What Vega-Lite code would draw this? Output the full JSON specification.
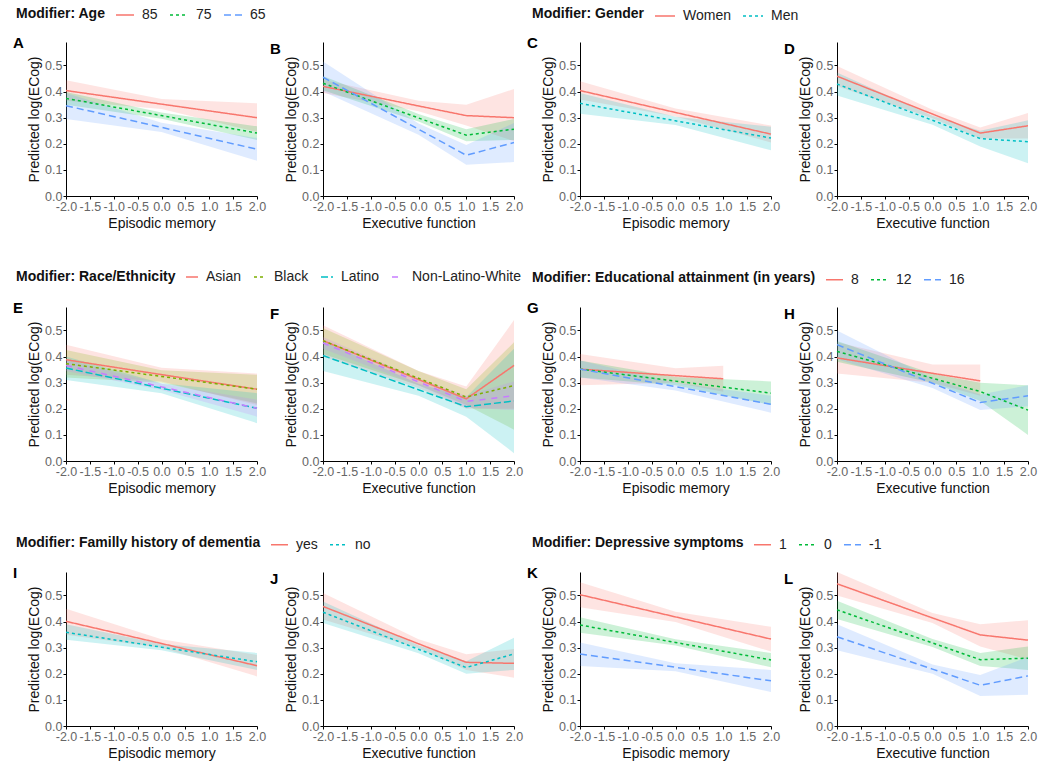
{
"$schema": "https://vega.github.io/schema/vega-lite/v6.json",
"background": "white",
"padding": {"left": 13, "top": 5, "right": 8, "bottom": 5},
"bounds": "flush",
"columns": 4,
"spacing": {"row": 111, "column": 66},
"data": {"values": [
{"p":"A","g":"85","x":-2,"y":0.404,"lo":0.365,"hi":0.443},{"p":"A","g":"85","x":0,"y":0.352,"lo":0.333,"hi":0.372},{"p":"A","g":"85","x":2,"y":0.300,"lo":0.245,"hi":0.355},
{"p":"A","g":"75","x":-2,"y":0.374,"lo":0.350,"hi":0.398},{"p":"A","g":"75","x":0,"y":0.308,"lo":0.296,"hi":0.320},{"p":"A","g":"75","x":2,"y":0.241,"lo":0.215,"hi":0.267},
{"p":"A","g":"65","x":-2,"y":0.346,"lo":0.295,"hi":0.395},{"p":"A","g":"65","x":0,"y":0.263,"lo":0.245,"hi":0.281},{"p":"A","g":"65","x":2,"y":0.179,"lo":0.135,"hi":0.222},
{"p":"B","g":"85","x":-2,"y":0.420,"lo":0.395,"hi":0.445},{"p":"B","g":"85","x":0,"y":0.345,"lo":0.325,"hi":0.365},{"p":"B","g":"85","x":1,"y":0.308,"lo":0.270,"hi":0.350},{"p":"B","g":"85","x":2,"y":0.300,"lo":0.210,"hi":0.410},
{"p":"B","g":"75","x":-2,"y":0.432,"lo":0.405,"hi":0.460},{"p":"B","g":"75","x":0,"y":0.299,"lo":0.285,"hi":0.314},{"p":"B","g":"75","x":1,"y":0.233,"lo":0.210,"hi":0.256},{"p":"B","g":"75","x":2,"y":0.256,"lo":0.215,"hi":0.295},
{"p":"B","g":"65","x":-2,"y":0.455,"lo":0.400,"hi":0.515},{"p":"B","g":"65","x":0,"y":0.256,"lo":0.235,"hi":0.278},{"p":"B","g":"65","x":1,"y":0.156,"lo":0.120,"hi":0.195},{"p":"B","g":"65","x":2,"y":0.205,"lo":0.130,"hi":0.280},
{"p":"C","g":"Women","x":-2,"y":0.404,"lo":0.370,"hi":0.440},{"p":"C","g":"Women","x":0,"y":0.320,"lo":0.305,"hi":0.335},{"p":"C","g":"Women","x":2,"y":0.237,"lo":0.205,"hi":0.270},
{"p":"C","g":"Men","x":-2,"y":0.355,"lo":0.315,"hi":0.395},{"p":"C","g":"Men","x":0,"y":0.288,"lo":0.272,"hi":0.304},{"p":"C","g":"Men","x":2,"y":0.222,"lo":0.175,"hi":0.265},
{"p":"D","g":"Women","x":-2,"y":0.459,"lo":0.420,"hi":0.498},{"p":"D","g":"Women","x":0,"y":0.314,"lo":0.298,"hi":0.330},{"p":"D","g":"Women","x":1,"y":0.241,"lo":0.220,"hi":0.262},{"p":"D","g":"Women","x":2,"y":0.269,"lo":0.220,"hi":0.318},
{"p":"D","g":"Men","x":-2,"y":0.429,"lo":0.385,"hi":0.473},{"p":"D","g":"Men","x":0,"y":0.290,"lo":0.273,"hi":0.307},{"p":"D","g":"Men","x":1,"y":0.220,"lo":0.190,"hi":0.250},{"p":"D","g":"Men","x":2,"y":0.208,"lo":0.125,"hi":0.290},
{"p":"E","g":"Asian","x":-2,"y":0.388,"lo":0.330,"hi":0.445},{"p":"E","g":"Asian","x":0,"y":0.331,"lo":0.305,"hi":0.357},{"p":"E","g":"Asian","x":2,"y":0.275,"lo":0.215,"hi":0.335},
{"p":"E","g":"Black","x":-2,"y":0.373,"lo":0.320,"hi":0.425},{"p":"E","g":"Black","x":0,"y":0.324,"lo":0.300,"hi":0.348},{"p":"E","g":"Black","x":2,"y":0.275,"lo":0.220,"hi":0.330},
{"p":"E","g":"Latino","x":-2,"y":0.356,"lo":0.310,"hi":0.400},{"p":"E","g":"Latino","x":0,"y":0.279,"lo":0.260,"hi":0.298},{"p":"E","g":"Latino","x":2,"y":0.202,"lo":0.145,"hi":0.260},
{"p":"E","g":"Non-Latino-White","x":-2,"y":0.366,"lo":0.345,"hi":0.387},{"p":"E","g":"Non-Latino-White","x":0,"y":0.284,"lo":0.272,"hi":0.296},{"p":"E","g":"Non-Latino-White","x":2,"y":0.202,"lo":0.170,"hi":0.235},
{"p":"F","g":"Asian","x":-2,"y":0.461,"lo":0.400,"hi":0.520},{"p":"F","g":"Asian","x":0,"y":0.312,"lo":0.280,"hi":0.345},{"p":"F","g":"Asian","x":1,"y":0.238,"lo":0.200,"hi":0.285},{"p":"F","g":"Asian","x":2,"y":0.366,"lo":0.200,"hi":0.540},
{"p":"F","g":"Black","x":-2,"y":0.461,"lo":0.410,"hi":0.510},{"p":"F","g":"Black","x":0,"y":0.317,"lo":0.290,"hi":0.345},{"p":"F","g":"Black","x":1,"y":0.245,"lo":0.215,"hi":0.275},{"p":"F","g":"Black","x":2,"y":0.289,"lo":0.120,"hi":0.455},
{"p":"F","g":"Latino","x":-2,"y":0.404,"lo":0.345,"hi":0.460},{"p":"F","g":"Latino","x":0,"y":0.273,"lo":0.250,"hi":0.296},{"p":"F","g":"Latino","x":1,"y":0.208,"lo":0.170,"hi":0.245},{"p":"F","g":"Latino","x":2,"y":0.230,"lo":0.030,"hi":0.430},
{"p":"F","g":"Non-Latino-White","x":-2,"y":0.452,"lo":0.430,"hi":0.475},{"p":"F","g":"Non-Latino-White","x":0,"y":0.303,"lo":0.290,"hi":0.316},{"p":"F","g":"Non-Latino-White","x":1,"y":0.228,"lo":0.205,"hi":0.250},{"p":"F","g":"Non-Latino-White","x":2,"y":0.250,"lo":0.195,"hi":0.305},
{"p":"G","g":"8","x":-2,"y":0.352,"lo":0.290,"hi":0.410},{"p":"G","g":"8","x":0,"y":0.327,"lo":0.300,"hi":0.355},{"p":"G","g":"8","x":1,"y":0.315,"lo":0.265,"hi":0.365},
{"p":"G","g":"12","x":-2,"y":0.352,"lo":0.320,"hi":0.385},{"p":"G","g":"12","x":0,"y":0.306,"lo":0.290,"hi":0.322},{"p":"G","g":"12","x":2,"y":0.260,"lo":0.215,"hi":0.305},
{"p":"G","g":"16","x":-2,"y":0.352,"lo":0.320,"hi":0.385},{"p":"G","g":"16","x":0,"y":0.285,"lo":0.270,"hi":0.300},{"p":"G","g":"16","x":2,"y":0.217,"lo":0.185,"hi":0.250},
{"p":"H","g":"8","x":-2,"y":0.395,"lo":0.335,"hi":0.455},{"p":"H","g":"8","x":0,"y":0.336,"lo":0.300,"hi":0.370},{"p":"H","g":"8","x":1,"y":0.307,"lo":0.250,"hi":0.370},
{"p":"H","g":"12","x":-2,"y":0.420,"lo":0.380,"hi":0.460},{"p":"H","g":"12","x":0,"y":0.317,"lo":0.300,"hi":0.334},{"p":"H","g":"12","x":1,"y":0.266,"lo":0.230,"hi":0.300},{"p":"H","g":"12","x":2,"y":0.195,"lo":0.100,"hi":0.290},
{"p":"H","g":"16","x":-2,"y":0.446,"lo":0.390,"hi":0.500},{"p":"H","g":"16","x":0,"y":0.298,"lo":0.280,"hi":0.316},{"p":"H","g":"16","x":1,"y":0.224,"lo":0.195,"hi":0.255},{"p":"H","g":"16","x":2,"y":0.250,"lo":0.210,"hi":0.290},
{"p":"I","g":"yes","x":-2,"y":0.401,"lo":0.350,"hi":0.449},{"p":"I","g":"yes","x":0,"y":0.316,"lo":0.300,"hi":0.332},{"p":"I","g":"yes","x":2,"y":0.231,"lo":0.190,"hi":0.272},
{"p":"I","g":"no","x":-2,"y":0.359,"lo":0.330,"hi":0.390},{"p":"I","g":"no","x":0,"y":0.302,"lo":0.290,"hi":0.314},{"p":"I","g":"no","x":2,"y":0.246,"lo":0.215,"hi":0.280},
{"p":"J","g":"yes","x":-2,"y":0.458,"lo":0.408,"hi":0.510},{"p":"J","g":"yes","x":0,"y":0.315,"lo":0.298,"hi":0.332},{"p":"J","g":"yes","x":1,"y":0.244,"lo":0.215,"hi":0.275},{"p":"J","g":"yes","x":2,"y":0.240,"lo":0.185,"hi":0.295},
{"p":"J","g":"no","x":-2,"y":0.436,"lo":0.395,"hi":0.477},{"p":"J","g":"no","x":0,"y":0.294,"lo":0.279,"hi":0.309},{"p":"J","g":"no","x":1,"y":0.224,"lo":0.200,"hi":0.248},{"p":"J","g":"no","x":2,"y":0.276,"lo":0.215,"hi":0.338},
{"p":"K","g":"1","x":-2,"y":0.503,"lo":0.455,"hi":0.551},{"p":"K","g":"1","x":0,"y":0.418,"lo":0.398,"hi":0.438},{"p":"K","g":"1","x":2,"y":0.333,"lo":0.285,"hi":0.380},
{"p":"K","g":"0","x":-2,"y":0.387,"lo":0.357,"hi":0.417},{"p":"K","g":"0","x":0,"y":0.320,"lo":0.308,"hi":0.332},{"p":"K","g":"0","x":2,"y":0.253,"lo":0.225,"hi":0.280},
{"p":"K","g":"-1","x":-2,"y":0.276,"lo":0.230,"hi":0.320},{"p":"K","g":"-1","x":0,"y":0.225,"lo":0.210,"hi":0.240},{"p":"K","g":"-1","x":2,"y":0.173,"lo":0.130,"hi":0.215},
{"p":"L","g":"1","x":-2,"y":0.545,"lo":0.500,"hi":0.590},{"p":"L","g":"1","x":0,"y":0.414,"lo":0.395,"hi":0.433},{"p":"L","g":"1","x":1,"y":0.349,"lo":0.305,"hi":0.390},{"p":"L","g":"1","x":2,"y":0.329,"lo":0.255,"hi":0.405},
{"p":"L","g":"0","x":-2,"y":0.445,"lo":0.410,"hi":0.480},{"p":"L","g":"0","x":0,"y":0.318,"lo":0.303,"hi":0.333},{"p":"L","g":"0","x":1,"y":0.254,"lo":0.230,"hi":0.280},{"p":"L","g":"0","x":2,"y":0.260,"lo":0.215,"hi":0.305},
{"p":"L","g":"-1","x":-2,"y":0.342,"lo":0.290,"hi":0.390},{"p":"L","g":"-1","x":0,"y":0.218,"lo":0.200,"hi":0.236},{"p":"L","g":"-1","x":1,"y":0.156,"lo":0.115,"hi":0.195},{"p":"L","g":"-1","x":2,"y":0.192,"lo":0.120,"hi":0.265}
]},
"concat": [
{"width":191,"height":154,"title":{"text":"A","offset":-46},"transform":[{"filter":"datum.p == 'A'"}],
 "encoding":{"x":{"field":"x","type":"quantitative","title":"Episodic memory","scale":{"domain":[-2,2],"nice":false},"axis":{"values":[-2,-1.5,-1,-0.5,0,0.5,1,1.5,2],"labelExpr":"(datum.value < 0 ? '-' : '') + format(abs(datum.value), '.1f')"}},
  "color":{"field":"g","type":"nominal","scale":{"domain":["85","75","65"],"range":["#F8766D","#00BA38","#619CFF"]},"legend":{"title":"Modifier: Age","orient":"none","legendX":-50,"legendY":-37,"direction":"horizontal","titleOrient":"left","symbolSize":324}}},
 "layer":[
  {"mark":{"type":"area","fillOpacity":0.2},"encoding":{"y":{"field":"lo","type":"quantitative","title":"Predicted log(ECog)","scale":{"domain":[0,0.59],"nice":false},"axis":{"values":[0,0.1,0.2,0.3,0.4,0.5],"format":".1f"}},"y2":{"field":"hi"}}},
  {"mark":{"type":"line","strokeWidth":1.5},"encoding":{"y":{"field":"y","type":"quantitative","title":"Predicted log(ECog)","axis":{"values":[0,0.1,0.2,0.3,0.4,0.5],"format":".1f"}},
   "strokeDash":{"field":"g","type":"nominal","scale":{"domain":["85","75","65"],"range":[[1,0],[3,3],[7,4]]},"legend":{"title":"Modifier: Age","orient":"none","legendX":-50,"legendY":-37,"direction":"horizontal","titleOrient":"left","symbolSize":324}}}}
 ]},
{"width":191,"height":154,"title":{"text":"B","offset":-15},"transform":[{"filter":"datum.p == 'B'"}],
 "encoding":{"x":{"field":"x","type":"quantitative","title":"Executive function","scale":{"domain":[-2,2],"nice":false},"axis":{"values":[-2,-1.5,-1,-0.5,0,0.5,1,1.5,2],"labelExpr":"(datum.value < 0 ? '-' : '') + format(abs(datum.value), '.1f')"}},
  "color":{"field":"g","type":"nominal","scale":{"domain":["85","75","65"],"range":["#F8766D","#00BA38","#619CFF"]},"legend":null}},
 "layer":[
  {"mark":{"type":"area","fillOpacity":0.2},"encoding":{"y":{"field":"lo","type":"quantitative","title":"Predicted log(ECog)","scale":{"domain":[0,0.59],"nice":false},"axis":{"values":[0,0.1,0.2,0.3,0.4,0.5],"format":".1f"}},"y2":{"field":"hi"}}},
  {"mark":{"type":"line","strokeWidth":1.5},"encoding":{"y":{"field":"y","type":"quantitative","title":"Predicted log(ECog)","axis":{"values":[0,0.1,0.2,0.3,0.4,0.5],"format":".1f"}},
   "strokeDash":{"field":"g","type":"nominal","scale":{"domain":["85","75","65"],"range":[[1,0],[3,3],[7,4]]},"legend":null}}}
 ]},
{"width":191,"height":154,"title":{"text":"C","offset":-46},"transform":[{"filter":"datum.p == 'C'"}],
 "encoding":{"x":{"field":"x","type":"quantitative","title":"Episodic memory","scale":{"domain":[-2,2],"nice":false},"axis":{"values":[-2,-1.5,-1,-0.5,0,0.5,1,1.5,2],"labelExpr":"(datum.value < 0 ? '-' : '') + format(abs(datum.value), '.1f')"}},
  "color":{"field":"g","type":"nominal","scale":{"domain":["Women","Men"],"range":["#F8766D","#00BFC4"]},"legend":{"title":"Modifier: Gender","orient":"none","legendX":-48,"legendY":-37,"direction":"horizontal","titleOrient":"left","symbolSize":400}}},
 "layer":[
  {"mark":{"type":"area","fillOpacity":0.2},"encoding":{"y":{"field":"lo","type":"quantitative","title":"Predicted log(ECog)","scale":{"domain":[0,0.59],"nice":false},"axis":{"values":[0,0.1,0.2,0.3,0.4,0.5],"format":".1f"}},"y2":{"field":"hi"}}},
  {"mark":{"type":"line","strokeWidth":1.5},"encoding":{"y":{"field":"y","type":"quantitative","title":"Predicted log(ECog)","axis":{"values":[0,0.1,0.2,0.3,0.4,0.5],"format":".1f"}},
   "strokeDash":{"field":"g","type":"nominal","scale":{"domain":["Women","Men"],"range":[[1,0],[3,3]]},"legend":{"title":"Modifier: Gender","orient":"none","legendX":-48,"legendY":-37,"direction":"horizontal","titleOrient":"left","symbolSize":400}}}}
 ]},
{"width":191,"height":154,"title":{"text":"D","offset":-15},"transform":[{"filter":"datum.p == 'D'"}],
 "encoding":{"x":{"field":"x","type":"quantitative","title":"Executive function","scale":{"domain":[-2,2],"nice":false},"axis":{"values":[-2,-1.5,-1,-0.5,0,0.5,1,1.5,2],"labelExpr":"(datum.value < 0 ? '-' : '') + format(abs(datum.value), '.1f')"}},
  "color":{"field":"g","type":"nominal","scale":{"domain":["Women","Men"],"range":["#F8766D","#00BFC4"]},"legend":null}},
 "layer":[
  {"mark":{"type":"area","fillOpacity":0.2},"encoding":{"y":{"field":"lo","type":"quantitative","title":"Predicted log(ECog)","scale":{"domain":[0,0.59],"nice":false},"axis":{"values":[0,0.1,0.2,0.3,0.4,0.5],"format":".1f"}},"y2":{"field":"hi"}}},
  {"mark":{"type":"line","strokeWidth":1.5},"encoding":{"y":{"field":"y","type":"quantitative","title":"Predicted log(ECog)","axis":{"values":[0,0.1,0.2,0.3,0.4,0.5],"format":".1f"}},
   "strokeDash":{"field":"g","type":"nominal","scale":{"domain":["Women","Men"],"range":[[1,0],[3,3]]},"legend":null}}}
 ]},
{"width":191,"height":154,"title":{"text":"E","offset":-46},"transform":[{"filter":"datum.p == 'E'"}],
 "encoding":{"x":{"field":"x","type":"quantitative","title":"Episodic memory","scale":{"domain":[-2,2],"nice":false},"axis":{"values":[-2,-1.5,-1,-0.5,0,0.5,1,1.5,2],"labelExpr":"(datum.value < 0 ? '-' : '') + format(abs(datum.value), '.1f')"}},
  "color":{"field":"g","type":"nominal","scale":{"domain":["Asian","Black","Latino","Non-Latino-White"],"range":["#F8766D","#7CAE00","#00BFC4","#C77CFF"]},"legend":{"title":"Modifier: Race/Ethnicity","orient":"none","legendX":-50,"legendY":-37,"direction":"horizontal","titleOrient":"left","symbolSize":144}}},
 "layer":[
  {"mark":{"type":"area","fillOpacity":0.2},"encoding":{"y":{"field":"lo","type":"quantitative","title":"Predicted log(ECog)","scale":{"domain":[0,0.59],"nice":false},"axis":{"values":[0,0.1,0.2,0.3,0.4,0.5],"format":".1f"}},"y2":{"field":"hi"}}},
  {"mark":{"type":"line","strokeWidth":1.5},"encoding":{"y":{"field":"y","type":"quantitative","title":"Predicted log(ECog)","axis":{"values":[0,0.1,0.2,0.3,0.4,0.5],"format":".1f"}},
   "strokeDash":{"field":"g","type":"nominal","scale":{"domain":["Asian","Black","Latino","Non-Latino-White"],"range":[[1,0],[3,3],[7,3],[6,6]]},"legend":{"title":"Modifier: Race/Ethnicity","orient":"none","legendX":-50,"legendY":-37,"direction":"horizontal","titleOrient":"left","symbolSize":144}}}}
 ]},
{"width":191,"height":154,"title":{"text":"F","offset":-15},"transform":[{"filter":"datum.p == 'F'"}],
 "encoding":{"x":{"field":"x","type":"quantitative","title":"Executive function","scale":{"domain":[-2,2],"nice":false},"axis":{"values":[-2,-1.5,-1,-0.5,0,0.5,1,1.5,2],"labelExpr":"(datum.value < 0 ? '-' : '') + format(abs(datum.value), '.1f')"}},
  "color":{"field":"g","type":"nominal","scale":{"domain":["Asian","Black","Latino","Non-Latino-White"],"range":["#F8766D","#7CAE00","#00BFC4","#C77CFF"]},"legend":null}},
 "layer":[
  {"mark":{"type":"area","fillOpacity":0.2},"encoding":{"y":{"field":"lo","type":"quantitative","title":"Predicted log(ECog)","scale":{"domain":[0,0.59],"nice":false},"axis":{"values":[0,0.1,0.2,0.3,0.4,0.5],"format":".1f"}},"y2":{"field":"hi"}}},
  {"mark":{"type":"line","strokeWidth":1.5},"encoding":{"y":{"field":"y","type":"quantitative","title":"Predicted log(ECog)","axis":{"values":[0,0.1,0.2,0.3,0.4,0.5],"format":".1f"}},
   "strokeDash":{"field":"g","type":"nominal","scale":{"domain":["Asian","Black","Latino","Non-Latino-White"],"range":[[1,0],[3,3],[7,3],[6,6]]},"legend":null}}}
 ]},
{"width":191,"height":154,"title":{"text":"G","offset":-46},"transform":[{"filter":"datum.p == 'G'"}],
 "encoding":{"x":{"field":"x","type":"quantitative","title":"Episodic memory","scale":{"domain":[-2,2],"nice":false},"axis":{"values":[-2,-1.5,-1,-0.5,0,0.5,1,1.5,2],"labelExpr":"(datum.value < 0 ? '-' : '') + format(abs(datum.value), '.1f')"}},
  "color":{"field":"g","type":"nominal","scale":{"domain":["8","12","16"],"range":["#F8766D","#00BA38","#619CFF"]},"legend":{"title":"Modifier: Educational attainment (in years)","orient":"none","legendX":-48,"legendY":-37,"direction":"horizontal","titleOrient":"left","symbolSize":289}}},
 "layer":[
  {"mark":{"type":"area","fillOpacity":0.2},"encoding":{"y":{"field":"lo","type":"quantitative","title":"Predicted log(ECog)","scale":{"domain":[0,0.59],"nice":false},"axis":{"values":[0,0.1,0.2,0.3,0.4,0.5],"format":".1f"}},"y2":{"field":"hi"}}},
  {"mark":{"type":"line","strokeWidth":1.5},"encoding":{"y":{"field":"y","type":"quantitative","title":"Predicted log(ECog)","axis":{"values":[0,0.1,0.2,0.3,0.4,0.5],"format":".1f"}},
   "strokeDash":{"field":"g","type":"nominal","scale":{"domain":["8","12","16"],"range":[[1,0],[3,3],[7,4]]},"legend":{"title":"Modifier: Educational attainment (in years)","orient":"none","legendX":-48,"legendY":-37,"direction":"horizontal","titleOrient":"left","symbolSize":289}}}}
 ]},
{"width":191,"height":154,"title":{"text":"H","offset":-15},"transform":[{"filter":"datum.p == 'H'"}],
 "encoding":{"x":{"field":"x","type":"quantitative","title":"Executive function","scale":{"domain":[-2,2],"nice":false},"axis":{"values":[-2,-1.5,-1,-0.5,0,0.5,1,1.5,2],"labelExpr":"(datum.value < 0 ? '-' : '') + format(abs(datum.value), '.1f')"}},
  "color":{"field":"g","type":"nominal","scale":{"domain":["8","12","16"],"range":["#F8766D","#00BA38","#619CFF"]},"legend":null}},
 "layer":[
  {"mark":{"type":"area","fillOpacity":0.2},"encoding":{"y":{"field":"lo","type":"quantitative","title":"Predicted log(ECog)","scale":{"domain":[0,0.59],"nice":false},"axis":{"values":[0,0.1,0.2,0.3,0.4,0.5],"format":".1f"}},"y2":{"field":"hi"}}},
  {"mark":{"type":"line","strokeWidth":1.5},"encoding":{"y":{"field":"y","type":"quantitative","title":"Predicted log(ECog)","axis":{"values":[0,0.1,0.2,0.3,0.4,0.5],"format":".1f"}},
   "strokeDash":{"field":"g","type":"nominal","scale":{"domain":["8","12","16"],"range":[[1,0],[3,3],[7,4]]},"legend":null}}}
 ]},
{"width":191,"height":154,"title":{"text":"I","offset":-46},"transform":[{"filter":"datum.p == 'I'"}],
 "encoding":{"x":{"field":"x","type":"quantitative","title":"Episodic memory","scale":{"domain":[-2,2],"nice":false},"axis":{"values":[-2,-1.5,-1,-0.5,0,0.5,1,1.5,2],"labelExpr":"(datum.value < 0 ? '-' : '') + format(abs(datum.value), '.1f')"}},
  "color":{"field":"g","type":"nominal","scale":{"domain":["yes","no"],"range":["#F8766D","#00BFC4"]},"legend":{"title":"Modifier: Familly history of dementia","orient":"none","legendX":-50,"legendY":-37,"direction":"horizontal","titleOrient":"left","symbolSize":289}}},
 "layer":[
  {"mark":{"type":"area","fillOpacity":0.2},"encoding":{"y":{"field":"lo","type":"quantitative","title":"Predicted log(ECog)","scale":{"domain":[0,0.59],"nice":false},"axis":{"values":[0,0.1,0.2,0.3,0.4,0.5],"format":".1f"}},"y2":{"field":"hi"}}},
  {"mark":{"type":"line","strokeWidth":1.5},"encoding":{"y":{"field":"y","type":"quantitative","title":"Predicted log(ECog)","axis":{"values":[0,0.1,0.2,0.3,0.4,0.5],"format":".1f"}},
   "strokeDash":{"field":"g","type":"nominal","scale":{"domain":["yes","no"],"range":[[1,0],[3,3]]},"legend":{"title":"Modifier: Familly history of dementia","orient":"none","legendX":-50,"legendY":-37,"direction":"horizontal","titleOrient":"left","symbolSize":289}}}}
 ]},
{"width":191,"height":154,"title":{"text":"J","offset":-15},"transform":[{"filter":"datum.p == 'J'"}],
 "encoding":{"x":{"field":"x","type":"quantitative","title":"Executive function","scale":{"domain":[-2,2],"nice":false},"axis":{"values":[-2,-1.5,-1,-0.5,0,0.5,1,1.5,2],"labelExpr":"(datum.value < 0 ? '-' : '') + format(abs(datum.value), '.1f')"}},
  "color":{"field":"g","type":"nominal","scale":{"domain":["yes","no"],"range":["#F8766D","#00BFC4"]},"legend":null}},
 "layer":[
  {"mark":{"type":"area","fillOpacity":0.2},"encoding":{"y":{"field":"lo","type":"quantitative","title":"Predicted log(ECog)","scale":{"domain":[0,0.59],"nice":false},"axis":{"values":[0,0.1,0.2,0.3,0.4,0.5],"format":".1f"}},"y2":{"field":"hi"}}},
  {"mark":{"type":"line","strokeWidth":1.5},"encoding":{"y":{"field":"y","type":"quantitative","title":"Predicted log(ECog)","axis":{"values":[0,0.1,0.2,0.3,0.4,0.5],"format":".1f"}},
   "strokeDash":{"field":"g","type":"nominal","scale":{"domain":["yes","no"],"range":[[1,0],[3,3]]},"legend":null}}}
 ]},
{"width":191,"height":154,"title":{"text":"K","offset":-46},"transform":[{"filter":"datum.p == 'K'"}],
 "encoding":{"x":{"field":"x","type":"quantitative","title":"Episodic memory","scale":{"domain":[-2,2],"nice":false},"axis":{"values":[-2,-1.5,-1,-0.5,0,0.5,1,1.5,2],"labelExpr":"(datum.value < 0 ? '-' : '') + format(abs(datum.value), '.1f')"}},
  "color":{"field":"g","type":"nominal","scale":{"domain":["1","0","-1"],"range":["#F8766D","#00BA38","#619CFF"]},"legend":{"title":"Modifier: Depressive symptoms","orient":"none","legendX":-48,"legendY":-37,"direction":"horizontal","titleOrient":"left","symbolSize":289}}},
 "layer":[
  {"mark":{"type":"area","fillOpacity":0.2},"encoding":{"y":{"field":"lo","type":"quantitative","title":"Predicted log(ECog)","scale":{"domain":[0,0.59],"nice":false},"axis":{"values":[0,0.1,0.2,0.3,0.4,0.5],"format":".1f"}},"y2":{"field":"hi"}}},
  {"mark":{"type":"line","strokeWidth":1.5},"encoding":{"y":{"field":"y","type":"quantitative","title":"Predicted log(ECog)","axis":{"values":[0,0.1,0.2,0.3,0.4,0.5],"format":".1f"}},
   "strokeDash":{"field":"g","type":"nominal","scale":{"domain":["1","0","-1"],"range":[[1,0],[3,3],[7,4]]},"legend":{"title":"Modifier: Depressive symptoms","orient":"none","legendX":-48,"legendY":-37,"direction":"horizontal","titleOrient":"left","symbolSize":289}}}}
 ]},
{"width":191,"height":154,"title":{"text":"L","offset":-15},"transform":[{"filter":"datum.p == 'L'"}],
 "encoding":{"x":{"field":"x","type":"quantitative","title":"Executive function","scale":{"domain":[-2,2],"nice":false},"axis":{"values":[-2,-1.5,-1,-0.5,0,0.5,1,1.5,2],"labelExpr":"(datum.value < 0 ? '-' : '') + format(abs(datum.value), '.1f')"}},
  "color":{"field":"g","type":"nominal","scale":{"domain":["1","0","-1"],"range":["#F8766D","#00BA38","#619CFF"]},"legend":null}},
 "layer":[
  {"mark":{"type":"area","fillOpacity":0.2},"encoding":{"y":{"field":"lo","type":"quantitative","title":"Predicted log(ECog)","scale":{"domain":[0,0.59],"nice":false},"axis":{"values":[0,0.1,0.2,0.3,0.4,0.5],"format":".1f"}},"y2":{"field":"hi"}}},
  {"mark":{"type":"line","strokeWidth":1.5},"encoding":{"y":{"field":"y","type":"quantitative","title":"Predicted log(ECog)","axis":{"values":[0,0.1,0.2,0.3,0.4,0.5],"format":".1f"}},
   "strokeDash":{"field":"g","type":"nominal","scale":{"domain":["1","0","-1"],"range":[[1,0],[3,3],[7,4]]},"legend":null}}}
 ]}
],
"resolve": {"scale": {"color": "independent", "strokeDash": "independent", "x": "independent", "y": "independent"}, "legend": {"color": "independent", "strokeDash": "independent"}},
"config": {
 "font": "Liberation Sans",
 "view": {"stroke": null},
 "title": {"anchor": "start", "frame": "group", "fontSize": 15, "fontWeight": "bold", "color": "#000", "dx": -53, "baseline": "alphabetic"},
 "axis": {"grid": false, "domainColor": "#000", "domainWidth": 1, "tickColor": "#000", "tickSize": 3, "labelColor": "#666", "labelFontSize": 12.5, "titleFontSize": 14, "titleFontWeight": "normal", "titleColor": "#111", "labelPadding": 1, "labelOverlap": false},
 "axisX": {"labelFlush": false, "titlePadding": 4},
 "axisY": {"titlePadding": 3},
 "legend": {"titleFontSize": 14, "titleFontWeight": "bold", "titleColor": "#111", "titleLimit": 600, "labelFontSize": 14, "labelColor": "#222", "symbolType": "stroke", "symbolStrokeWidth": 1.5, "columnPadding": 9, "labelOffset": 7, "titlePadding": 9}
}
}
